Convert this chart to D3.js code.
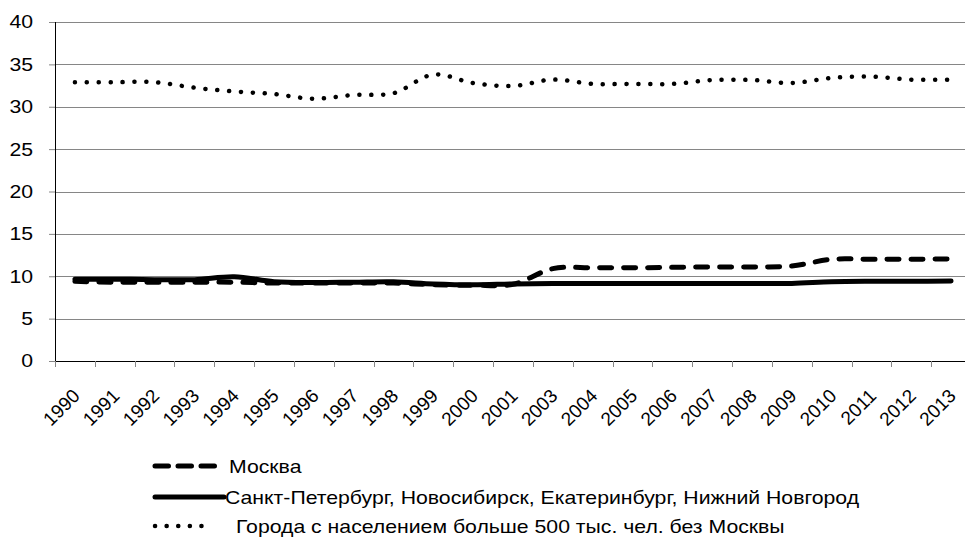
<!DOCTYPE html>
<html>
<head>
<meta charset="utf-8">
<script src="https://cdn.jsdelivr.net/npm/d3@7"></script>
<style>
  body { margin: 0; background: #fff; }
  text { font-family: "Liberation Sans", Arial, sans-serif; fill: #000; }
</style>
</head>
<body>
<div class="mySvg"></div>
<script>
// categories (no 2002 in the source)
var years = ['1990', '1991', '1992', '1993', '1994', '1995', '1996', '1997', '1998', '1999', '2000', '2001',
             '2003', '2004', '2005', '2006', '2007', '2008', '2009', '2010', '2011', '2012', '2013'];

var moscow = [9.4, 9.3, 9.3, 9.3, 9.3, 9.2, 9.2, 9.2, 9.2, 9.0, 8.95, 9.05,
              10.9, 11.0, 11.0, 11.05, 11.1, 11.1, 11.2, 12.0, 12.0, 12.0, 12.05];

var bigFour = [9.65, 9.65, 9.6, 9.6, 9.95, 9.35, 9.25, 9.3, 9.35, 9.1, 9.0, 9.1,
               9.15, 9.15, 9.15, 9.15, 9.15, 9.15, 9.15, 9.35, 9.4, 9.4, 9.45];

var cities = [32.9, 32.9, 32.9, 32.25, 31.8, 31.5, 30.95, 31.4, 31.6, 33.8, 32.8, 32.45,
              33.2, 32.7, 32.7, 32.7, 33.15, 33.15, 32.8, 33.4, 33.55, 33.2, 33.2];

var yTicks = [0, 5, 10, 15, 20, 25, 30, 35, 40];

var seriesNames = ['Москва',
                   'Санкт-Петербург, Новосибирск, Екатеринбург, Нижний Новгород',
                   'Города с населением больше 500 тыс. чел. без Москвы'];

var width = 965, height = 539;
var margin = {top: 22, left: 55, bottom: 361};
var plotRight = 971; // the plot runs past the right edge of the picture
var stretch = 'scale(1.18,1)'; // the source picture is a bit wider than tall

var svg = d3.select('.mySvg').append('svg')
  .attr('width', width)
  .attr('height', height);

var xScale = d3.scaleBand().domain(years).range([margin.left, plotRight]);
var yScale = d3.scaleLinear().domain([0, 40]).range([margin.bottom, margin.top]);

// gridlines
svg.append('g').selectAll('line')
  .data(yTicks.filter(function(d) { return d > 0; }))
  .enter().append('line')
  .attr('x1', margin.left).attr('x2', plotRight)
  .attr('y1', function(d) { return Math.round(yScale(d)) + 0.5; })
  .attr('y2', function(d) { return Math.round(yScale(d)) + 0.5; })
  .attr('stroke', '#868686')
  .attr('stroke-width', 1);

// y axis
var yAxis = d3.axisLeft(yScale).tickValues(yTicks).tickSize(6).tickFormat('');
var gy = svg.append('g').attr('transform', 'translate(' + margin.left + ',0)').call(yAxis);
gy.select('.domain').attr('stroke', '#000').attr('d', 'M0.5,' + margin.top + 'V' + margin.bottom);
gy.selectAll('.tick line').attr('stroke', '#868686');
gy.selectAll('.ylab')
  .data(yTicks)
  .enter().append('text')
  .attr('class', 'ylab')
  .attr('font-size', '18px')
  .attr('text-anchor', 'end')
  .attr('dy', '0.36em')
  .attr('transform', function(d) { return 'translate(-22,' + yScale(d) + ') ' + stretch; })
  .text(function(d) { return d; });

// x axis: ticks sit on the band edges
var gx = svg.append('g').attr('transform', 'translate(0,' + margin.bottom + ')');
gx.append('line')
  .attr('x1', margin.left).attr('x2', plotRight)
  .attr('y1', 0.5).attr('y2', 0.5)
  .attr('stroke', '#000');
gx.selectAll('.xt')
  .data(years)
  .enter().append('line')
  .attr('class', 'xt')
  .attr('x1', function(d) { return Math.round(xScale(d)) + 0.5; })
  .attr('x2', function(d) { return Math.round(xScale(d)) + 0.5; })
  .attr('y1', 0).attr('y2', 6)
  .attr('stroke', '#868686');
gx.selectAll('.xl')
  .data(years)
  .enter().append('text')
  .attr('class', 'xl')
  .attr('font-size', '19px')
  .attr('text-anchor', 'end')
  .attr('transform', function(d) {
    var cx = xScale(d) + xScale.bandwidth() / 2 + 6;
    return 'translate(' + cx + ',36) rotate(-45)';
  })
  .text(function(d) { return d; });

var line = d3.line()
  .x(function(d, i) { return xScale(years[i]) + xScale.bandwidth() / 2; })
  .y(function(d) { return yScale(d); })
  .curve(d3.curveCatmullRom);

var styles = [
  {dash: '12,12', legendDash: '13.5,9.5', width: 5},
  {dash: null, legendDash: null, width: 5},
  {dash: '0.1,11.8', legendDash: '0.1,11.5', width: 4.5}
];

[moscow, bigFour, cities].forEach(function(values, i) {
  svg.append('path')
    .datum(values)
    .attr('d', line)
    .attr('fill', 'none')
    .attr('stroke', '#000')
    .attr('stroke-width', styles[i].width)
    .attr('stroke-linecap', 'round')
    .attr('stroke-dasharray', styles[i].dash);
});

// legend
var legendY = [466, 497, 526];
var legendLen = [60, 69, 58];
var legendTextX = [229, 225, 236];
var legend = svg.append('g');
seriesNames.forEach(function(name, i) {
  legend.append('line')
    .attr('x1', 155).attr('x2', 155 + legendLen[i])
    .attr('y1', legendY[i]).attr('y2', legendY[i])
    .attr('stroke', '#000')
    .attr('stroke-width', styles[i].width)
    .attr('stroke-linecap', 'round')
    .attr('stroke-dasharray', styles[i].legendDash);
  legend.append('text')
    .attr('font-size', '18px')
    .attr('transform', 'translate(' + legendTextX[i] + ',' + (legendY[i] + 6.5) + ') ' + stretch)
    .text(name);
});
</script>
</body>
</html>
